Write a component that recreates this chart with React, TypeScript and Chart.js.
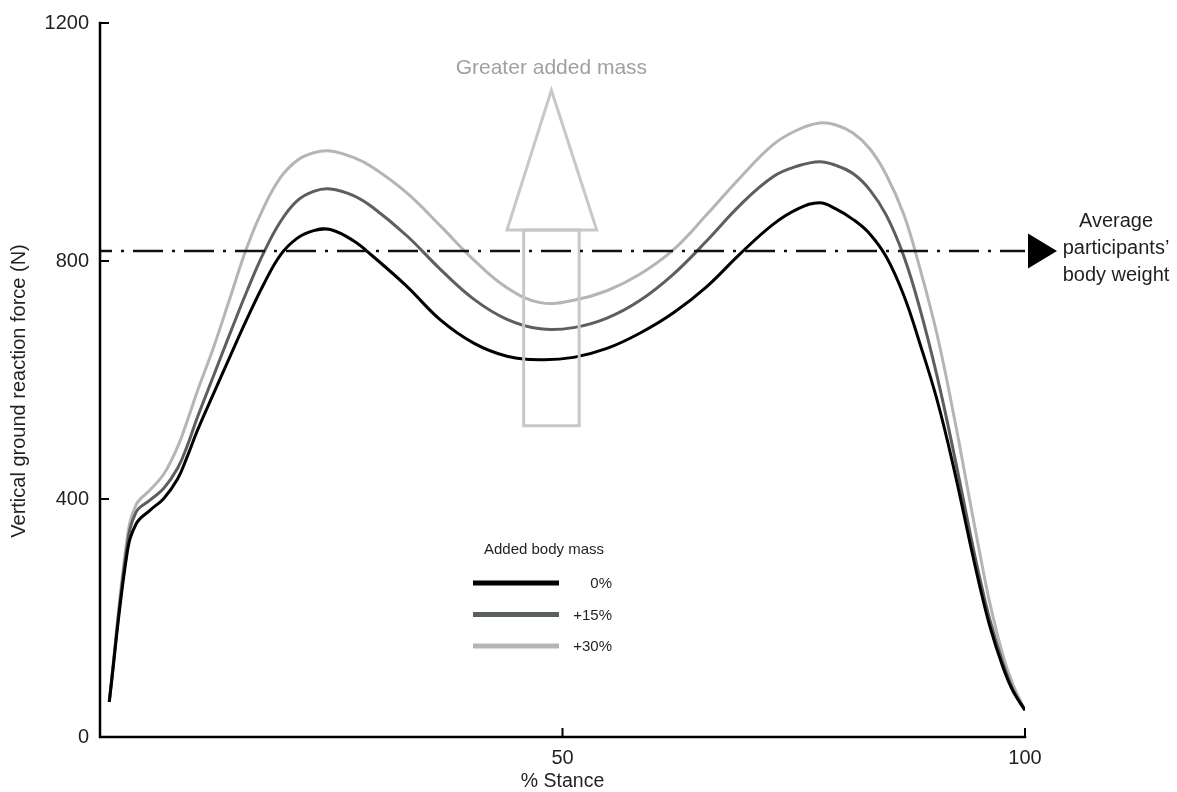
import React, { useEffect, useRef } from "react";
import { Chart, registerables } from "chart.js";

Chart.register(...registerables);

// ---------- data ----------
const stance = [1, 2.9, 3.9, 5.4, 6.9, 8.4, 9.4, 10.5, 12.3, 14.1, 15.9, 17.7, 19.5, 21.3, 23.1, 24.9, 27.4, 29.5, 33.2, 36.8, 40.4, 44, 47.6, 51.2, 54.8, 58.4, 62, 65.6, 69.2, 72.8, 75.5, 77.8, 79.5, 81.4, 83.2, 85, 86.9, 88.6, 90.5, 92.3, 94.1, 95.1, 96.2, 97.6, 98.7, 100];

const mass0 = [59, 306, 358, 381, 401, 434, 470, 514, 578, 641, 703, 761, 810, 838, 851, 853, 834, 808, 757, 701, 662, 640, 634, 638, 653, 679, 713, 757, 812, 862, 888, 898, 888, 870, 846, 807, 742, 663, 566, 452, 323, 254, 186, 118, 77, 45];

const mass15 = [59, 318, 378, 398, 418, 452, 488, 536, 608, 680, 750, 814, 866, 901, 917, 921, 910, 890, 842, 786, 736, 702, 686, 688, 704, 734, 778, 834, 894, 942, 960, 967, 961, 947, 920, 877, 808, 722, 606, 478, 340, 268, 197, 125, 80, 45];

const mass30 = [59, 330, 390, 415, 442, 488, 530, 580, 656, 740, 824, 890, 940, 969, 982, 985, 974, 957, 914, 859, 802, 755, 730, 734, 750, 778, 819, 878, 940, 996, 1021, 1032, 1029, 1015, 989, 945, 878, 790, 676, 541, 392, 310, 225, 138, 88, 45];

const seriesLabels = ["0%", "+15%", "+30%"];
const seriesColors = ["#000000", "#5a5f5f", "#b5b5b5"];
const legendTitle = "Added body mass";

const yTicks = [0, 400, 800, 1200];
const xTicks = [50, 100];
const xTitle = "% Stance";
const yTitle = "Vertical ground reaction force (N)";

const bodyWeight = 817;
const bodyWeightLabel = ["Average", "participants\u2019", "body weight"];

// arrow "Greater added mass" in data units
const arrowLabel = "Greater added mass";
const arrowHeadX = [44.0, 48.8, 53.7]; // base-left, apex, base-right
const arrowHeadY = [852, 1087]; // base, apex
const arrowShaftX = [45.8, 51.8];
const arrowShaftY = [523, 852];

const FONT = '"Liberation Sans", Arial, Helvetica, sans-serif';
const TEXT = "#231f20";

const overlay = {
  id: "overlay",
  afterDatasetsDraw(chart: any) {
    const { ctx, chartArea: ca, scales } = chart;
    const x = scales.x;
    const y = scales.y;
    ctx.save();

    // arrow
    ctx.strokeStyle = "#c8c8c8";
    ctx.lineWidth = 3;
    ctx.lineJoin = "miter";
    ctx.beginPath();
    ctx.moveTo(x.getPixelForValue(arrowShaftX[0]), y.getPixelForValue(arrowShaftY[0]));
    ctx.lineTo(x.getPixelForValue(arrowShaftX[0]), y.getPixelForValue(arrowShaftY[1]));
    ctx.lineTo(x.getPixelForValue(arrowShaftX[1]), y.getPixelForValue(arrowShaftY[1]));
    ctx.lineTo(x.getPixelForValue(arrowShaftX[1]), y.getPixelForValue(arrowShaftY[0]));
    ctx.closePath();
    ctx.stroke();
    ctx.beginPath();
    ctx.moveTo(x.getPixelForValue(arrowHeadX[0]), y.getPixelForValue(arrowHeadY[0]));
    ctx.lineTo(x.getPixelForValue(arrowHeadX[1]), y.getPixelForValue(arrowHeadY[1]));
    ctx.lineTo(x.getPixelForValue(arrowHeadX[2]), y.getPixelForValue(arrowHeadY[0]));
    ctx.closePath();
    ctx.stroke();
    ctx.fillStyle = "#a0a0a0";
    ctx.font = `21px ${FONT}`;
    ctx.textAlign = "center";
    ctx.textBaseline = "middle";
    ctx.fillText(arrowLabel, x.getPixelForValue(arrowHeadX[1]), y.getPixelForValue(arrowHeadY[1]) - 22);

    // body weight dash-dot line
    const yr = y.getPixelForValue(bodyWeight);
    ctx.strokeStyle = "#111111";
    ctx.lineWidth = 2.5;
    ctx.setLineDash([30, 9, 3, 9]);
    ctx.lineDashOffset = 18;
    ctx.beginPath();
    ctx.moveTo(ca.left, yr);
    ctx.lineTo(ca.right, yr);
    ctx.stroke();
    ctx.setLineDash([]);
    ctx.fillStyle = "#000";
    ctx.beginPath();
    ctx.moveTo(ca.right + 3, yr - 17.5);
    ctx.lineTo(ca.right + 32, yr);
    ctx.lineTo(ca.right + 3, yr + 17.5);
    ctx.closePath();
    ctx.fill();
    ctx.fillStyle = TEXT;
    ctx.font = `20px ${FONT}`;
    ctx.textAlign = "center";
    ctx.textBaseline = "middle";
    bodyWeightLabel.forEach((t, i) => {
      ctx.fillText(t, ca.right + 91, yr - 29 + i * 27);
    });

    // legend
    ctx.font = `15px ${FONT}`;
    ctx.fillStyle = TEXT;
    ctx.textAlign = "center";
    ctx.fillText(legendTitle, ca.left + 444, ca.top + 527);
    seriesLabels.forEach((lab, i) => {
      const ly = ca.top + 560 + i * 31.5;
      ctx.strokeStyle = seriesColors[i];
      ctx.lineWidth = 5;
      ctx.beginPath();
      ctx.moveTo(ca.left + 373, ly);
      ctx.lineTo(ca.left + 459, ly);
      ctx.stroke();
      ctx.fillStyle = TEXT;
      ctx.textAlign = "right";
      ctx.fillText(lab, ca.left + 512, ly + 1);
    });

    // y axis title
    ctx.save();
    ctx.translate(19, (ca.top + ca.bottom) / 2 + 11);
    ctx.rotate(-Math.PI / 2);
    ctx.font = `20px ${FONT}`;
    ctx.fillStyle = TEXT;
    ctx.textAlign = "center";
    ctx.textBaseline = "middle";
    ctx.fillText(yTitle, 0, 0);
    ctx.restore();

    // axes
    ctx.strokeStyle = "#000";
    ctx.lineWidth = 2.5;
    ctx.lineCap = "square";
    ctx.beginPath();
    ctx.moveTo(ca.left, ca.top);
    ctx.lineTo(ca.left, ca.bottom);
    ctx.lineTo(ca.right, ca.bottom);
    ctx.stroke();
    ctx.lineCap = "butt";
    ctx.lineWidth = 2;
    ctx.beginPath();
    yTicks.forEach((v) => {
      const py = y.getPixelForValue(v);
      ctx.moveTo(ca.left, py);
      ctx.lineTo(ca.left + 9, py);
    });
    xTicks.forEach((v) => {
      const px = x.getPixelForValue(v);
      ctx.moveTo(px, ca.bottom);
      ctx.lineTo(px, ca.bottom - 9);
    });
    ctx.stroke();
    ctx.restore();
  },
};

export default function App() {
  const ref = useRef<HTMLCanvasElement>(null);
  useEffect(() => {
    if (!ref.current) return;
    const series = [mass0, mass15, mass30];
    const chart = new Chart(ref.current, {
      type: "line",
      data: {
        datasets: series.map((s, i) => ({
          label: seriesLabels[i],
          data: s.map((v, j) => ({ x: stance[j], y: v })),
          borderColor: seriesColors[i],
          borderWidth: 3,
          pointRadius: 0,
          fill: false,
          tension: 0.4,
        })),
      },
      options: {
        animation: false,
        responsive: false,
        devicePixelRatio: 1,
        layout: { padding: { top: 23, right: 152, bottom: 0, left: 0 } },
        plugins: { legend: { display: false }, tooltip: { enabled: false } },
        scales: {
          x: {
            type: "linear",
            min: 0,
            max: 100,
            afterBuildTicks: (s: any) => {
              s.ticks = xTicks.map((v) => ({ value: v }));
            },
            afterFit: (s: any) => {
              s.height = 55;
            },
            grid: { display: false, drawTicks: false },
            border: { display: false },
            ticks: { font: { family: FONT, size: 20 }, color: TEXT, padding: 9, autoSkip: false, maxRotation: 0, callback: (v: any) => String(v) },
            title: { display: true, text: xTitle, font: { family: FONT, size: 19.5 }, color: TEXT, padding: { top: 0, bottom: -1 } },
          },
          y: {
            type: "linear",
            min: 0,
            max: 1200,
            afterBuildTicks: (s: any) => {
              s.ticks = yTicks.map((v) => ({ value: v }));
            },
            afterFit: (s: any) => {
              s.width = 100;
            },
            grid: { display: false, drawTicks: false },
            border: { display: false },
            ticks: { font: { family: FONT, size: 20 }, color: TEXT, padding: 11, callback: (v: any) => String(v) },
            title: { display: false },
          },
        },
      },
      plugins: [overlay],
    });
    return () => chart.destroy();
  }, []);
  return (
    <div style={{ position: "absolute", left: 0, top: 0, width: 1177, height: 792, background: "#fff" }}>
      <canvas ref={ref} width={1177} height={792} style={{ display: "block" }} />
    </div>
  );
}
